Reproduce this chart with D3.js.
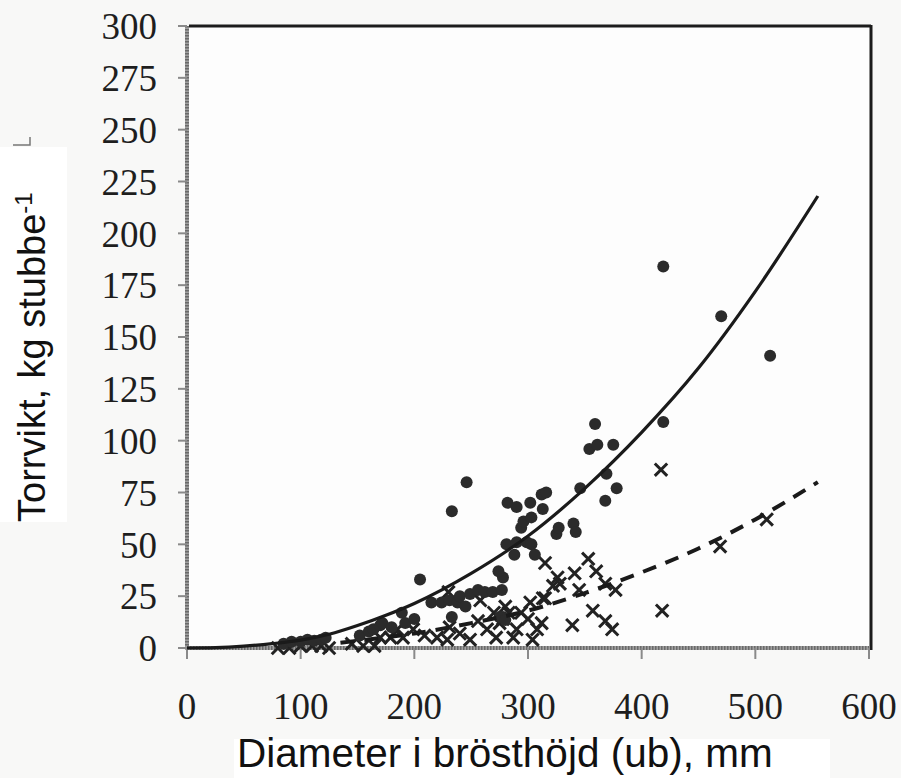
<!DOCTYPE html>
<html>
<head>
<meta charset="utf-8">
<script src="https://cdn.jsdelivr.net/npm/d3@7"></script>
<style>
  body { margin: 0; background: #f8f8f7; }
  svg { display: block; }
</style>
</head>
<body>
<div id="chart"></div>
<script>
// axis ticks
const xTicks = [0, 100, 200, 300, 400, 500, 600];
const yTicks = [0, 25, 50, 75, 100, 125, 150, 175, 200, 225, 250, 275, 300];

// stubbe, diameter (mm) / torrvikt (kg) - filled circles
const circleD = [85, 92, 100, 106, 112, 118, 122, 152, 160, 164, 170, 172, 180, 189, 192, 200,
  205, 215, 224, 231, 233, 238, 240, 245, 249, 256, 262, 269, 277, 278, 274, 278, 275, 280,
  233, 246, 281, 288, 290, 299, 303, 306, 294, 296, 303, 313, 282, 290, 302, 312, 316,
  325, 327, 340, 342, 346, 354, 359, 361, 375, 369, 378, 368, 419, 419, 470, 513];
const circleW = [2, 3, 3, 4, 3.5, 4, 5, 6, 8, 9, 11, 12, 10, 17, 12, 14,
  33, 22, 22, 23, 15, 22, 25, 20, 26, 28, 27, 27, 28, 34, 37, 15, 15, 13.5,
  66, 80, 50, 45, 51, 51, 50, 45, 58, 61, 63, 67, 70, 68, 70, 74, 75,
  55, 58, 60, 56, 77, 96, 108, 98, 98, 84, 77, 71, 184, 109, 160, 141];

// crosses
const crossD = [80, 90, 100, 110, 118, 125, 145, 155, 165, 170, 179, 185, 190, 199, 209, 220,
  229, 231, 240, 249, 230, 256, 258, 264, 272, 278, 283, 287, 290, 294, 302, 304, 308, 312,
  313, 315, 315, 322, 326, 328, 339, 341, 345, 353, 357, 360, 368, 368, 374, 377, 417, 418,
  469, 510, 280, 275, 300, 270];
const crossW = [0, 0, 1, 1, 1, 0, 2, 1, 1, 5, 5, 9, 5, 9, 6, 5,
  4, 10, 7, 4, 27, 13, 23, 9, 5, 14, 17, 5, 9, 17, 22, 4, 9, 12,
  24, 24, 41, 30, 34, 31, 11, 36, 28, 43, 18, 37, 31, 13, 9, 28, 86, 18,
  49, 62, 20, 12, 14, 17];

// fitted curves
const solidD = [0, 25, 50, 75, 100, 125, 150, 175, 200, 250, 300, 350, 400, 450, 500, 555];
const solidW = [0, 0.2, 0.9, 2.1, 3.8, 6.6, 10.8, 15.8, 21.5, 36, 54, 77, 104, 135, 172, 218];
const dashD = [135, 150, 200, 250, 300, 350, 400, 450, 500, 555];
const dashW = [2.5, 3.5, 7, 12, 18, 26.5, 36.5, 48, 62, 80];

class StumpChart {
  constructor(parent) {
    this.parent = parent;
    this.width = 901;
    this.height = 778;
    this.init();
  }

  init() {
    this.x = d3.scaleLinear().domain([0, 600]).range([187, 869]);
    this.y = d3.scaleLinear().domain([0, 300]).range([648, 26]);

    this.svg = d3.select(this.parent).append("svg")
      .attr("width", this.width).attr("height", this.height);

    // scanned page background + pasted label boxes
    this.svg.append("rect").attr("x", 0).attr("y", 0)
      .attr("width", this.width).attr("height", this.height).attr("fill", "#f8f8f7");
    this.svg.append("rect").attr("x", 0).attr("y", 147)
      .attr("width", 67).attr("height", 375).attr("fill", "#ffffff");
    this.svg.append("rect").attr("x", 234).attr("y", 739)
      .attr("width", 596).attr("height", 39).attr("fill", "#ffffff");
    this.svg.append("rect").attr("x", 189).attr("y", 27)
      .attr("width", 680).attr("height", 620).attr("fill", "#fdfdfd");
    this.svg.append("path").attr("d", "M13,145H30V137")
      .attr("fill", "none").attr("stroke", "#777").attr("stroke-width", 1.5);

    this.plot = this.svg.append("g");
  }

  draw() {
    const x = this.x, y = this.y, g = this.plot;

    // frame: black top/right, grey textured axes left/bottom
    g.append("line").attr("x1", 189).attr("x2", 871).attr("y1", 26).attr("y2", 26)
      .attr("stroke", "#1c1c1c").attr("stroke-width", 3);
    g.append("line").attr("x1", 871).attr("x2", 871).attr("y1", 25).attr("y2", 650)
      .attr("stroke", "#1c1c1c").attr("stroke-width", 3);

    const axisLines = [[x(0), y(300), x(0), y(0) + 2], [x(0), y(0), x(600), y(0)]];
    axisLines.forEach(l => {
      g.append("line").attr("x1", l[0]).attr("y1", l[1]).attr("x2", l[2]).attr("y2", l[3])
        .attr("stroke", "#a0a0a0").attr("stroke-width", 4);
      g.append("line").attr("x1", l[0]).attr("y1", l[1]).attr("x2", l[2]).attr("y2", l[3])
        .attr("stroke", "#6a6a6a").attr("stroke-width", 4).attr("stroke-dasharray", "1.5,1.5");
    });

    g.selectAll("line.ytick").data(yTicks).join("line").attr("class", "ytick")
      .attr("x1", x(0) - 9).attr("x2", x(0)).attr("y1", d => y(d)).attr("y2", d => y(d))
      .attr("stroke", "#8a8a8a").attr("stroke-width", 2);
    g.selectAll("line.xtick").data(xTicks).join("line").attr("class", "xtick")
      .attr("x1", d => x(d)).attr("x2", d => x(d)).attr("y1", y(0)).attr("y2", y(0) + 11)
      .attr("stroke", "#8a8a8a").attr("stroke-width", 2);

    g.selectAll("text.ylab").data(yTicks).join("text").attr("class", "ylab")
      .attr("x", 157).attr("y", d => y(d)).attr("dy", "0.36em")
      .attr("text-anchor", "end")
      .style("font-family", "'Liberation Serif', 'Times New Roman', serif")
      .style("font-size", "37px").attr("fill", "#1e1e1e")
      .text(d => d);
    g.selectAll("text.xlab").data(xTicks).join("text").attr("class", "xlab")
      .attr("x", d => x(d)).attr("y", 719)
      .attr("text-anchor", "middle")
      .style("font-family", "'Liberation Serif', 'Times New Roman', serif")
      .style("font-size", "37px").attr("fill", "#1e1e1e")
      .text(d => d);

    // axis titles
    const yt = this.svg.append("text")
      .attr("transform", "translate(45,522) rotate(-90)")
      .style("font-family", "'Liberation Sans', Arial, sans-serif")
      .style("font-size", "38px").attr("fill", "#111");
    yt.append("tspan").text("Torrvikt, kg stubbe");
    yt.append("tspan").attr("dy", "-0.55em").style("font-size", "24px").text("-1");

    this.svg.append("text").attr("x", 237).attr("y", 767)
      .style("font-family", "'Liberation Sans', Arial, sans-serif")
      .style("font-size", "40.5px").attr("fill", "#111")
      .text("Diameter i brösthöjd (ub), mm");

    // points
    const circles = circleD.map((d, i) => ({ d: d, w: circleW[i] }));
    const crosses = crossD.map((d, i) => ({ d: d, w: crossW[i] }));

    const line = d3.line().x(p => x(p[0])).y(p => y(p[1])).curve(d3.curveMonotoneX);

    g.append("g").selectAll("path").data(crosses).join("path")
      .attr("d", p => {
        const cx = x(p.d), cy = y(p.w), s = 6.2;
        return `M${cx - s},${cy - s}L${cx + s},${cy + s}M${cx - s},${cy + s}L${cx + s},${cy - s}`;
      })
      .attr("stroke", "#222").attr("stroke-width", 3).attr("fill", "none");

    g.append("g").selectAll("circle").data(circles).join("circle")
      .attr("cx", p => x(p.d)).attr("cy", p => y(p.w)).attr("r", 6)
      .attr("fill", "#2b2b2b");

    g.append("path").datum(solidD.map((d, i) => [d, solidW[i]]))
      .attr("d", line).attr("fill", "none")
      .attr("stroke", "#1a1a1a").attr("stroke-width", 3.2);
    g.append("path").datum(dashD.map((d, i) => [d, dashW[i]]))
      .attr("d", line).attr("fill", "none")
      .attr("stroke", "#1a1a1a").attr("stroke-width", 4).attr("stroke-dasharray", "14,10");
  }
}

const chart = new StumpChart(document.getElementById("chart"));
chart.draw();
</script>
</body>
</html>
